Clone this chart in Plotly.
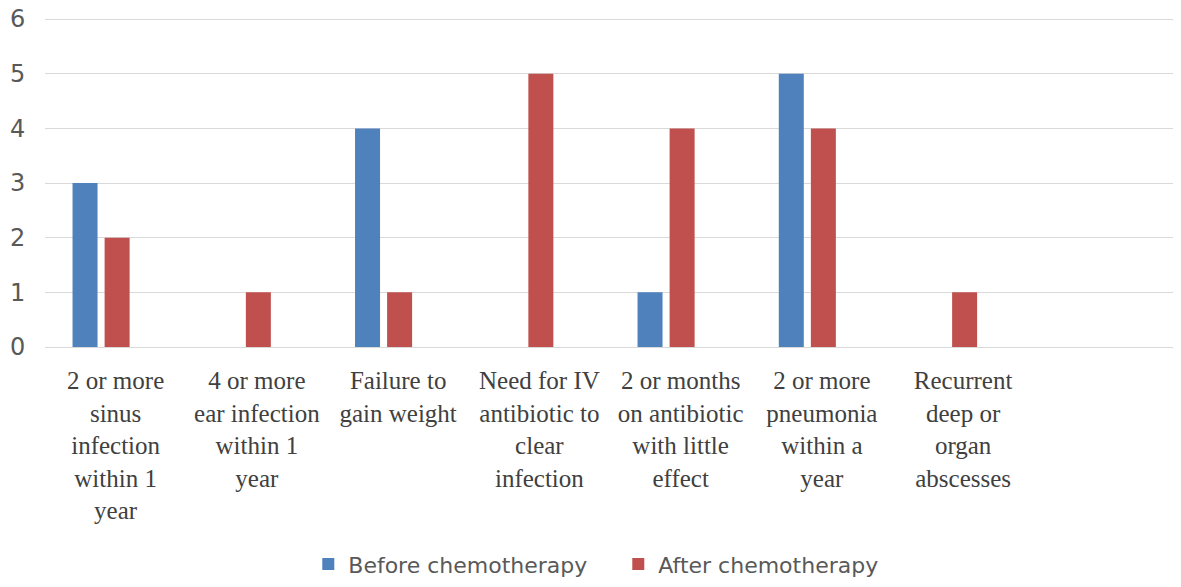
import plotly.graph_objects as go

categories = [
    "2 or more<br>sinus<br>infection<br>within 1<br>year",
    "4 or more<br>ear infection<br>within 1<br>year",
    "Failure to<br>gain weight",
    "Need for IV<br>antibiotic to<br>clear<br>infection",
    "2 or months<br>on antibiotic<br>with little<br>effect",
    "2 or more<br>pneumonia<br>within a<br>year",
    "Recurrent<br>deep or<br>organ<br>abscesses",
    "",
]
before = [3, 0, 4, 0, 1, 5, 0, None]
after = [2, 1, 1, 5, 4, 4, 1, None]
y_ticks = [0, 1, 2, 3, 4, 5, 6]

positions = list(range(len(categories)))

fig = go.Figure()
fig.add_trace(go.Bar(
    x=positions, y=before, name="Before chemotherapy",
    width=0.177, offset=-0.305,
    marker=dict(color="#4F81BD", line=dict(width=0)),
))
fig.add_trace(go.Bar(
    x=positions, y=after, name="After chemotherapy",
    width=0.177, offset=-0.078,
    marker=dict(color="#C0504D", line=dict(width=0)),
))

# the page body keeps its default 8px margin, so margins are shifted by that much
fig.update_layout(
    width=1181, height=587,
    margin=dict(l=37, r=14, t=10, b=240),
    plot_bgcolor="white", paper_bgcolor="white",
    showlegend=True,
    legend=dict(
        orientation="h", x=0.233, xanchor="left", y=-0.66, yanchor="middle",
        entrywidth=265,
        font=dict(family="DejaVu Sans", size=22, color="#595959"),
        itemclick=False,
    ),
    xaxis=dict(
        range=[-0.5, 7.5], automargin=False,
        tickvals=positions, ticktext=categories,
        tickangle=0,
        tickfont=dict(family="Liberation Serif", size=25, color="#404040"),
        showgrid=False, zeroline=False,
        showline=True, linecolor="#D9D9D9", linewidth=1,
        ticks="outside", ticklen=11, tickcolor="rgba(0,0,0,0)",
    ),
    yaxis=dict(
        range=[0, 6.02], automargin=False, tickvals=y_ticks,
        tickfont=dict(family="DejaVu Sans", size=24, color="#595959"),
        ticklabeloverflow="allow",
        showgrid=True, gridcolor="#D9D9D9", gridwidth=1,
        zeroline=False, showline=False,
        ticks="outside", ticklen=14, tickcolor="rgba(0,0,0,0)",
    ),
)

fig.write_html("out.html", config={"displayModeBar": False})
